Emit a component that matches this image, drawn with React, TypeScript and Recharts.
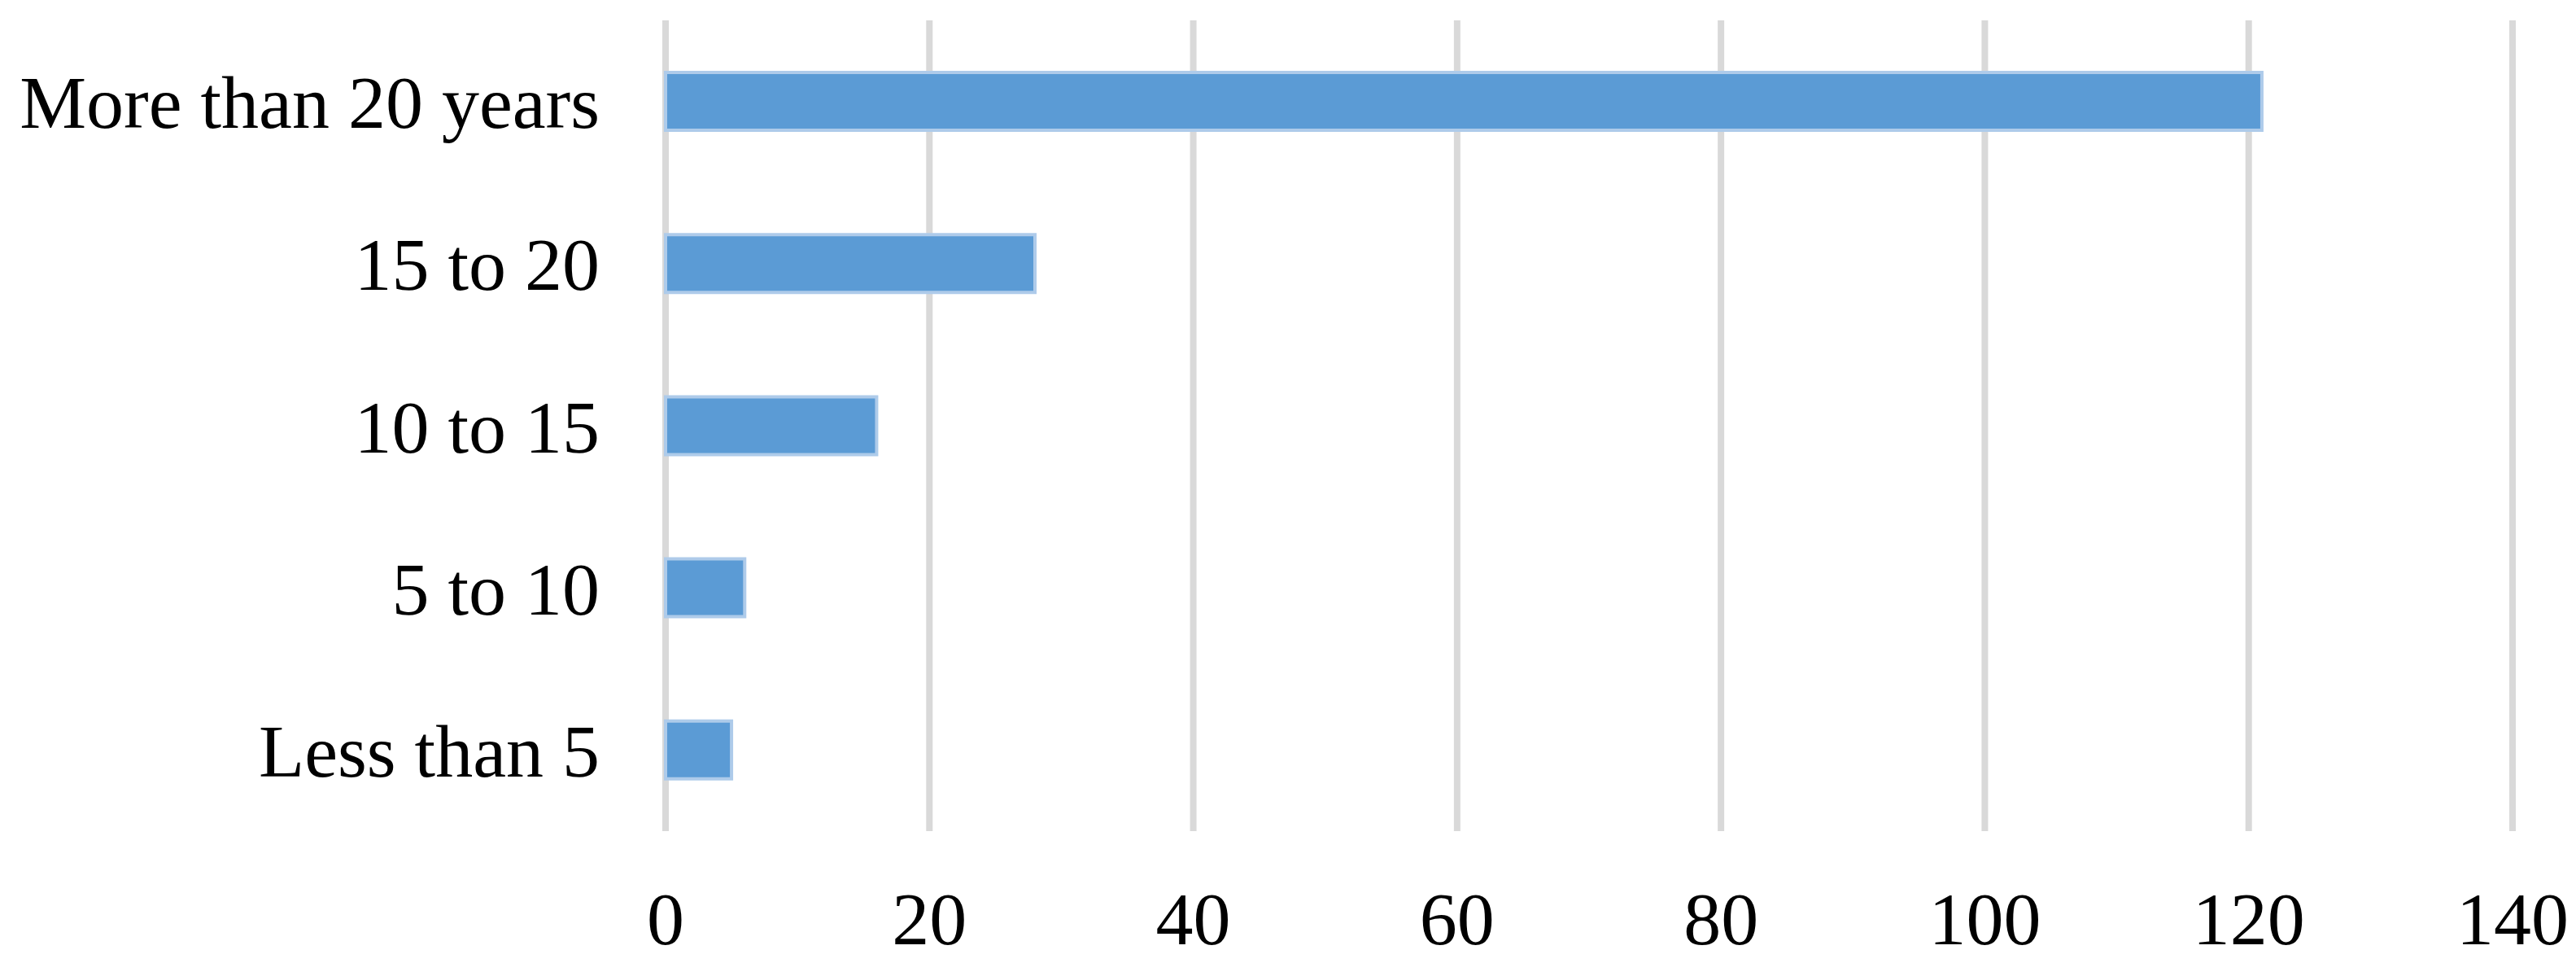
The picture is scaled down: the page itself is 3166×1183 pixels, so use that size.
import React from "react";
import { BarChart, Bar, XAxis, YAxis, CartesianGrid } from "recharts";

const categories = ["More than 20 years", "15 to 20", "10 to 15", "5 to 10", "Less than 5"];
const counts = [121, 28, 16, 6, 5];
const xTicks = [0, 20, 40, 60, 80, 100, 120, 140];

const data = categories.map((name, i) => ({ name, value: counts[i] }));

const FONT = "'Liberation Serif', 'Times New Roman', serif";

export default function App() {
  return (
    <div style={{ width: 3166, height: 1183, overflow: "hidden" }}>
      <style>{`html,body{margin:0;padding:0;overflow:hidden;background:#fff;}`}</style>
      <BarChart
        width={3166}
        height={1183}
        data={data}
        layout="vertical"
        margin={{ top: 25, right: 78, bottom: 0, left: 0 }}
        barSize={71}
      >
        <CartesianGrid horizontal={false} vertical={true} stroke="#d9d9d9" strokeWidth={8} />
        <XAxis
          type="number"
          domain={[0, 140]}
          ticks={xTicks}
          axisLine={false}
          tickLine={false}
          tickSize={0}
          tickMargin={74}
          height={162}
          interval={0}
          tick={{ fill: "#000000", fontSize: 92, fontFamily: FONT }}
        />
        <YAxis
          type="category"
          dataKey="name"
          axisLine={false}
          tickLine={false}
          tickSize={0}
          tickMargin={81}
          width={818}
          interval={0}
          tick={{ fill: "#000000", fontSize: 92, fontFamily: FONT }}
        />
        <Bar
          dataKey="value"
          fill="#5b9bd5"
          stroke="#aecbea"
          strokeWidth={4}
          isAnimationActive={false}
        />
      </BarChart>
    </div>
  );
}
